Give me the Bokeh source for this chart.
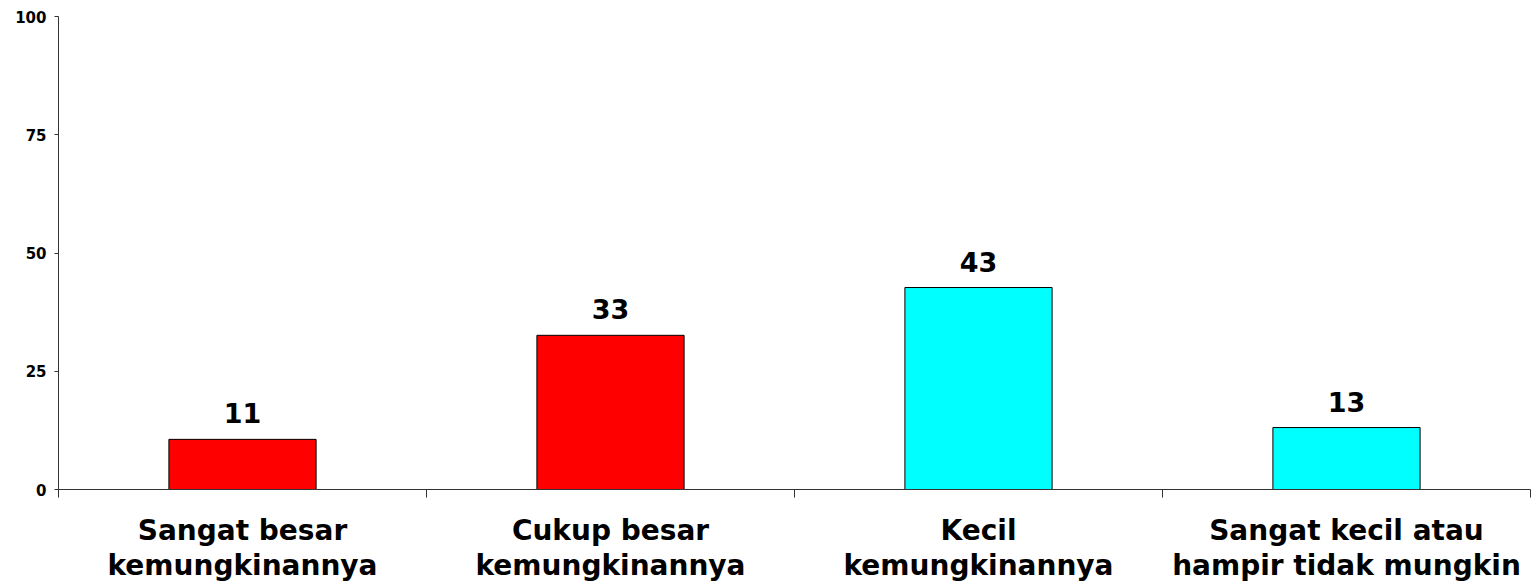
from bokeh.plotting import figure
from bokeh.models import ColumnDataSource, FixedTicker, LinearAxis, LabelSet, Range1d
from bokeh.core.properties import value
from bokeh.embed import file_html
from bokeh.resources import INLINE

categories = ["Sangat besar\nkemungkinannya", "Cukup besar\nkemungkinannya",
              "Kecil\nkemungkinannya", "Sangat kecil atau\nhampir tidak mungkin"]
values = [10.6, 32.6, 42.7, 13.1]
value_labels = ["11", "33", "43", "13"]
colors = ["#FF0000", "#FF0000", "#00FFFF", "#00FFFF"]
y_ticks = [0, 25, 50, 75, 100]

FONT = "DejaVu Sans"
xs = [i + 0.5 for i in range(len(categories))]

src = ColumnDataSource(dict(x=xs, top=values, lab=value_labels, color=colors))

p = figure(width=1532, height=584, output_backend="svg", toolbar_location=None,
           x_range=Range1d(0, len(categories)), y_range=Range1d(0, 100),
           x_axis_location=None, y_axis_location=None,
           min_border_left=58, min_border_right=2, min_border_top=16, min_border_bottom=95)
p.outline_line_color = None
p.xgrid.visible = False
p.ygrid.visible = False
p.background_fill_color = "white"
p.border_fill_color = "white"

p.vbar(x="x", top="top", width=0.4, bottom=0, source=src, fill_color="color",
       line_color="black", line_width=1)

labels = LabelSet(x="x", y="top", text="lab", source=src, text_align="center",
                  text_baseline="alphabetic", y_offset=16, text_font=value(FONT),
                  text_font_size="27px", text_font_style="bold", text_color="black")
p.add_layout(labels)

yaxis = LinearAxis(ticker=FixedTicker(ticks=y_ticks, minor_ticks=[]))
yaxis.axis_line_color = "#333333"
yaxis.major_tick_line_color = "#333333"
yaxis.major_tick_out = 4
yaxis.major_tick_in = 0
yaxis.minor_tick_line_color = None
yaxis.major_label_text_font = FONT
yaxis.major_label_text_font_size = "15px"
yaxis.major_label_text_font_style = "bold"
yaxis.major_label_text_color = "black"
yaxis.major_label_standoff = 8
p.add_layout(yaxis, "left")

xaxis = LinearAxis(ticker=FixedTicker(ticks=xs, minor_ticks=list(range(len(categories) + 1))))
xaxis.major_label_overrides = {x: c for x, c in zip(xs, categories)}
xaxis.axis_line_color = "#333333"
xaxis.major_tick_line_color = None
xaxis.major_tick_out = 0
xaxis.major_tick_in = 0
xaxis.minor_tick_line_color = "#333333"
xaxis.minor_tick_out = 8
xaxis.minor_tick_in = 0
xaxis.major_label_text_font = FONT
xaxis.major_label_text_font_size = "28px"
xaxis.major_label_text_font_style = "bold"
xaxis.major_label_text_color = "black"
xaxis.major_label_standoff = 16
xaxis.major_label_text_line_height = 1.07
p.add_layout(xaxis, "below")

open("out.html", "w").write(file_html(p, INLINE))
